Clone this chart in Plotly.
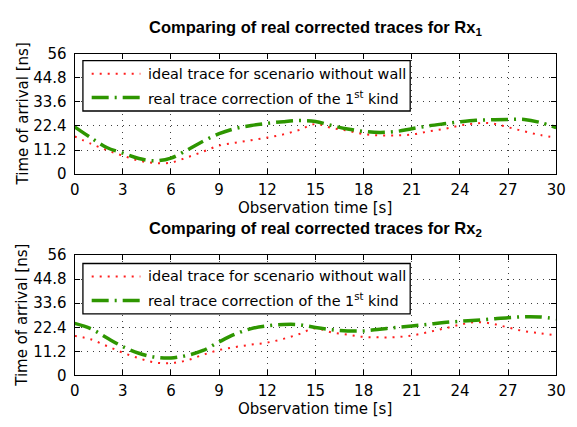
import plotly.graph_objects as go

# Observation time axis [s]
time_s = list(range(0, 31))

# Rx1 traces: time of arrival [ns]
rx1_ideal = [17.5, 14.2, 11.2, 8.6, 6.3, 5.2, 5.4, 7.8, 10.5, 13.3, 14.6,
             15.8, 17.0, 18.5, 20.6, 23.3, 21.5, 20.2, 18.6, 18.0, 18.0,
             18.4, 19.8, 21.0, 22.6, 23.6, 23.6, 21.8, 19.9, 18.2, 17.0]
rx1_real = [22.0, 17.0, 12.4, 9.8, 7.3, 6.2, 7.5, 11.2, 15.3, 18.8, 21.2,
            22.6, 23.6, 24.4, 24.9, 24.5, 22.6, 21.0, 19.9, 19.4, 19.8,
            21.1, 22.4, 23.4, 24.3, 25.0, 25.3, 25.4, 25.4, 24.0, 21.6]

# Rx2 traces: time of arrival [ns]
rx2_ideal = [18.4, 16.8, 13.7, 10.6, 8.0, 6.0, 5.7, 7.0, 9.6, 11.8, 13.2,
             14.3, 15.3, 17.0, 19.3, 21.9, 20.0, 19.0, 17.9, 17.7, 17.8,
             18.6, 20.1, 21.8, 23.6, 24.8, 24.1, 22.3, 20.6, 19.6, 18.6]
rx2_real = [24.2, 21.8, 17.5, 13.4, 10.3, 8.5, 8.1, 9.3, 11.6, 15.6, 19.2,
            21.8, 23.1, 23.7, 23.6, 22.3, 21.3, 20.7, 20.7, 21.5, 22.3,
            23.0, 23.8, 24.6, 25.2, 25.7, 26.3, 26.9, 27.3, 27.2, 26.4]

x_ticks = [0, 3, 6, 9, 12, 15, 18, 21, 24, 27, 30]
y_ticks = [0, 11.2, 22.4, 33.6, 44.8, 56]
y_tick_text = ["0", "11.2", "22.4", "33.6", "44.8", "56"]

legend_ideal = "ideal trace for scenario without wall"
legend_real = "real trace correction of the 1<sup>st</sup> kind"
titles = ["<b>Comparing of real corrected traces for Rx<sub>1</sub></b>",
          "<b>Comparing of real corrected traces for Rx<sub>2</sub></b>"]
x_title = "Observation time [s]"
y_title = "Time of arrival [ns]"

W, H = 577, 427
FONT = "DejaVu Sans, Liberation Sans, sans-serif"
TITLE_FONT = "Liberation Sans, Arial, sans-serif"
FS = 15
LEG_FS = 14.4
RED = "rgb(255,30,30)"
GREEN = "rgb(46,150,0)"

# pixel geometry of the two axes boxes
left_px, right_px = 71.5, 566.0
boxes = [(46.5, 172.5), (257.0, 382.5)]

def py(p):
    return 1 - p / H

fig = go.Figure()

panels = [(rx1_ideal, rx1_real), (rx2_ideal, rx2_real)]
for i, (ideal, real) in enumerate(panels):
    xa = "x" if i == 0 else "x2"
    ya = "y" if i == 0 else "y2"
    fig.add_trace(go.Scatter(
        x=time_s, y=ideal, mode="lines", line_shape="spline",
        line=dict(color=RED, width=2, dash="2px,6px"),
        xaxis=xa, yaxis=ya, showlegend=False))
    fig.add_trace(go.Scatter(
        x=time_s, y=real, mode="lines", line_shape="spline",
        line=dict(color=GREEN, width=3.5, dash="17px,6px,2px,6px"),
        xaxis=xa, yaxis=ya, showlegend=False))

axis_common = dict(
    showline=True, linecolor="black", linewidth=1, mirror="ticks",
    ticks="inside", ticklen=5, tickcolor="black", tickwidth=1,
    showgrid=True, gridcolor="rgba(0,0,0,0.75)", gridwidth=1, griddash="1px,5px",
    zeroline=False, tickfont=dict(family=FONT, size=FS, color="black"),
)

layout = dict(
    width=W, height=H, margin=dict(l=0, r=0, t=0, b=0),
    paper_bgcolor="white", plot_bgcolor="white", showlegend=False,
    font=dict(family=FONT, size=FS, color="black"),
)
for i, (top, bot) in enumerate(boxes):
    sfx = "" if i == 0 else "2"
    layout["xaxis" + sfx] = dict(
        axis_common, domain=[left_px / W, right_px / W], range=[0, 30],
        tickvals=x_ticks, anchor="y" + sfx, ticklabelstandoff=2)
    layout["yaxis" + sfx] = dict(
        axis_common, domain=[py(bot), py(top)], range=[0, 56],
        tickvals=y_ticks, ticktext=y_tick_text, anchor="x" + sfx,
        ticklabelstandoff=4)
fig.update_layout(**layout)

annotations = []
shapes = []
cx = (left_px + right_px) / 2 / W
for i, (top, bot) in enumerate(boxes):
    title_y = [20.0, 229.5][i]
    annotations.append(dict(
        text=titles[i], x=cx, y=py(title_y), xref="paper", yref="paper",
        showarrow=False, xanchor="center", yanchor="middle",
        font=dict(family=TITLE_FONT, size=16.5, color="black")))
    annotations.append(dict(
        text=x_title, x=cx, y=py(bot + 35), xref="paper", yref="paper",
        showarrow=False, xanchor="center", yanchor="middle",
        font=dict(family=FONT, size=FS, color="black")))
    annotations.append(dict(
        text=y_title, x=18 / W, y=py((top + bot) / 2), xref="paper",
        yref="paper", showarrow=False, textangle=-90,
        xanchor="center", yanchor="middle",
        font=dict(family=FONT, size=FS, color="black")))

    # legend box
    lt = top + [7.5, 8.7][i]
    lb = lt + 52.5
    shapes.append(dict(type="rect", xref="paper", yref="paper",
                       x0=80 / W, x1=416 / W, y0=py(lb), y1=py(lt),
                       line=dict(color="black", width=1.3),
                       fillcolor="white", layer="above"))
    rows = [(legend_ideal, RED, 2, "2px,6px", lt + 13.5),
            (legend_real, GREEN, 3.5, "17px,6px,2px,6px", lt + 38.5)]
    for label, col, w, dash, ry in rows:
        shapes.append(dict(type="line", xref="paper", yref="paper",
                           x0=89 / W, x1=139 / W, y0=py(ry), y1=py(ry),
                           line=dict(color=col, width=w, dash=dash),
                           layer="above"))
        annotations.append(dict(
            text=label, x=145 / W, y=py(ry), xref="paper", yref="paper",
            showarrow=False, xanchor="left", yanchor="middle",
            font=dict(family=FONT, size=LEG_FS, color="black")))

fig.update_layout(annotations=annotations, shapes=shapes)
fig.write_html("out.html")
